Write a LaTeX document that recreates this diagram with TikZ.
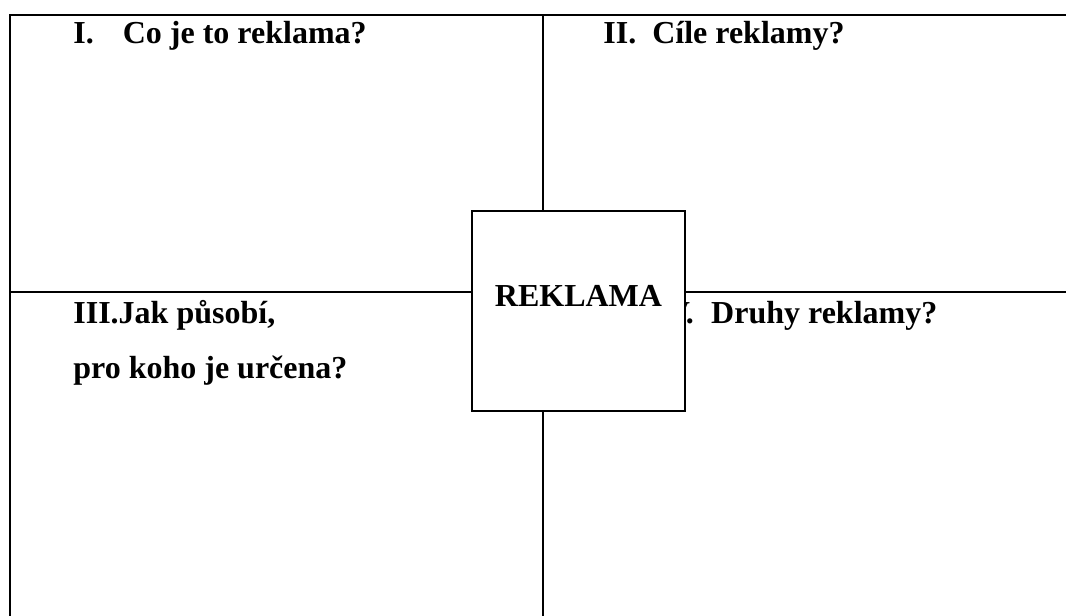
\documentclass[tikz,border=0pt]{standalone}
\usepackage{fontspec}
\setmainfont{Liberation Serif}
\usepackage{tikz}
\tikzstyle{frame line}=[line width=1pt,black]
\tikzstyle{head}=[anchor=base west,inner sep=0pt,font=\bfseries\fontsize{16}{20}\selectfont]
\tikzstyle{centre box}=[draw,line width=0.65pt,fill=white,minimum width=106.5pt,minimum height=100pt,inner sep=0pt]

\begin{document}
\begin{tikzpicture}[x=0.5pt,y=-0.5pt]
  \useasboundingbox (0,0) rectangle (1066,616);

  % frame and cross
  \coordinate (tl) at (10,15);
  \coordinate (tr) at (1066,15);
  \coordinate (bl) at (10,616);
  \coordinate (ml) at (10,292);
  \coordinate (mr) at (1066,292);
  \coordinate (mt) at (543,15);
  \coordinate (mb) at (543,616);
  \draw[frame line] (bl) -- (tl) -- (tr);
  \draw[frame line] (ml) -- (mr);
  \draw[frame line] (mt) -- (mb);

  % the four questions
  \node[head] (q1) at (73,43) {I.\hspace{14.5pt}Co je to reklama?};
  \node[head] (q2) at (603,43) {II.\hspace{8pt}Cíle reklamy?};
  \node[head] (q3a) at (73,323) {III.Jak působí,};
  \node[head] (q3b) at (73,378) {pro koho je určena?};
  \node[head] (q4) at (654,323) {IV.\hspace{8.7pt}Druhy reklamy?};

  % centre
  \node[centre box] (reklama) at (578.5,311) {};
  \node[head,anchor=base] (reklamatext) at ([yshift=2.5pt]reklama.center) {REKLAMA};
\end{tikzpicture}
\end{document}
